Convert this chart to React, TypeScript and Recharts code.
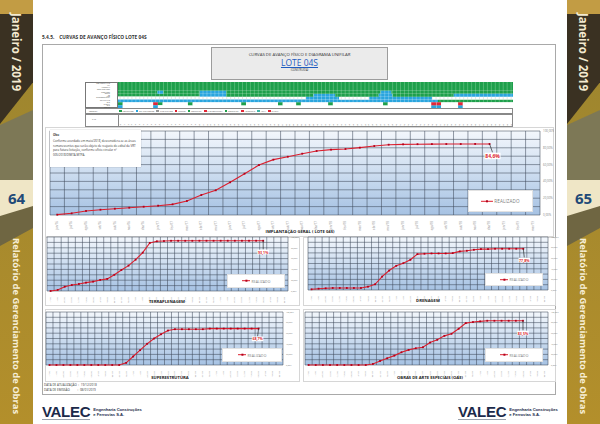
import React from 'react'
import { LineChart, Line, XAxis, YAxis, CartesianGrid, ReferenceLine, BarChart, Bar, Cell } from 'recharts'

// eixo mensal das curvas
const months = ['jun/16', 'jul/16', 'ago/16', 'set/16', 'out/16', 'nov/16', 'dez/16', 'jan/17', 'fev/17', 'mar/17', 'abr/17', 'mai/17', 'jun/17', 'jul/17', 'ago/17', 'set/17', 'out/17', 'nov/17', 'dez/17', 'jan/18', 'fev/18', 'mar/18', 'abr/18', 'mai/18', 'jun/18', 'jul/18', 'ago/18', 'set/18', 'out/18', 'nov/18', 'dez/18', 'jan/19', 'fev/19', 'mar/19']
const pctTicks = [0, 10, 20, 30, 40, 50, 60, 70, 80, 90, 100]

// % realizado acumulado
const implantacao = [0.4, 2, 4.8, 6.3, 7.5, 8.7, 9.9, 11.1, 12.7, 16.7, 23.8, 29.4, 38.9, 49.2, 59.5, 65.9, 69.4, 73, 76.2, 77.8, 78.6, 80.2, 82.1, 83.7, 84.1, 84.3, 84.4, 84.5, 84.5, 84.6, 84.6]
const terraplenagem = [0, 2, 8, 11, 13, 15.5, 17.4, 20.5, 22.4, 30, 39, 47, 58, 71, 89, 92, 92.5, 93, 93, 93, 93, 93.1, 93.1, 93.1, 93.1, 93.1, 93.1, 93.1, 93.1, 93.1, 93.1]
const drenagem = [1.3, 2.5, 3.2, 3.8, 3.8, 3.8, 3.8, 3.8, 6.3, 10.8, 25.3, 36.7, 45.6, 50.6, 57, 67.7, 68.4, 69, 69, 69, 69.6, 72.8, 74, 75.9, 77.2, 77.2, 77.8, 77.8, 77.8, 77.8, 77.8]
const superestrutura = [0, 0, 0, 0, 0, 0, 0, 0, 0, 0, 0, 4, 16, 28, 40, 50, 58, 65, 67.5, 67.5, 67.5, 67.5, 67.5, 68.7, 68.7, 68.7, 68.7, 68.7, 68.7, 68.7, 68.7]
const oae = [0, 0, 0, 0, 0, 0, 0, 0, 0, 1.9, 7.6, 12.7, 17.7, 24, 28.5, 31.6, 33.5, 42.4, 47.5, 55, 58.9, 68.4, 79, 81, 82.3, 83.5, 83.5, 83.5, 83.5, 83.5, 83.5]

// diagrama unifilar: fim de cada trecho (0-100) e estado
const rowNames = ['DESAPROPRIAÇÃO', 'LIC. AMBIENTAL', 'TERRAPLENAGEM', 'DRENAGEM', 'OBRAS DE ARTE', 'SUPERESTRUTURA', 'SINALIZAÇÃO', 'OAE EXECUT.', 'OAE ANDAM.']
const rowBreaks: [number, string][][] = [
  [[100, 'g']],
  [[100, 'g']],
  [[100, 'g']],
  [[10, 'g'], [11.5, 'b'], [20.7, 'g'], [27.4, 'b'], [66.5, 'g'], [69.2, 'b'], [100, 'g']],
  [[20.7, 'g'], [27.4, 'b'], [49.5, 'g'], [55, 'b'], [66, 'g'], [69.5, 'b'], [85, 'g'], [100, 'b']],
  [[47.6, 'w'], [56, 'b'], [63.6, 'w'], [79.5, 'b'], [100, 'w']],
  [[81, 'b'], [100, 'g']],
]
const oaeConcluida = [0, 10.1, 17.7, 31.2, 40.5, 45.1, 53.2, 67.1]
const oaeCritica = [8.9, 79.3, 80.6, 86.1]
const oaeAndamento = [0, 8.9, 79.3, 80.6, 86.1]
const kmTicks = [0, 1, 2, 3, 4, 5, 6, 7, 8, 9, 10, 11, 12, 13, 14, 15, 16, 17, 18, 19, 20, 21, 22, 23, 24, 25, 26, 27, 28, 29, 30, 31, 32, 33, 34, 35, 36, 37, 38, 39, 40, 41, 42, 43, 44, 45, 46, 47, 48, 49, 50, 51, 52, 53, 54, 55, 56, 57, 58, 59, 60, 61, 62, 63, 64, 65, 66, 67, 68, 69, 70, 71, 72, 73, 74, 75, 76, 77, 78, 79, 80, 81, 82, 83, 84, 85, 86, 87, 88, 89, 90, 91, 92, 93, 94, 95, 96, 97, 98, 99]

const RED = '#dc1f2e'
const GRID = '#3f4a5a'
const abs = (left: number, top: number, width?: number, height?: number): React.CSSProperties => ({ position: 'absolute', left, top, width, height })
const fmtPct = (v: number) => v.toFixed(1).replace('.', ',') + '%'
const fmtTick = (v: number) => v.toFixed(2).replace('.', ',') + '%'
const bandEdges = months.map((_, i) => i).concat(months.length)
const bandCenters = months.map((_, i) => i + 0.5)

type CurveProps = {
  id: string
  values: number[]
  left: number
  top: number
  width: number
  height: number
  margin: { top: number; right: number; bottom: number; left: number }
  xh: number
  yw: number
  fs: number
  lab: [number, number]
  lfs: number
}

function Curve({ id, values, left, top, width, height, margin, xh, yw, fs, lab, lfs }: CurveProps) {
  const data = values.map((v, i) => ({ x: i + 0.5, v }))
  const last = values.length - 1
  const dot = (p: any) => {
    const m = <rect x={p.cx - 0.9} y={p.cy - 0.9} width={1.8} height={1.8} fill="#b3001b" />
    if (p.index !== last) return <g key={p.index}>{m}</g>
    const tx = p.cx + lab[0]
    const ty = p.cy + lab[1]
    const w = lfs * 3.2
    return (
      <g key={p.index}>
        {m}
        <line x1={p.cx} y1={p.cy} x2={tx} y2={ty - lfs * 0.9} stroke="#111" strokeWidth={0.6} />
        <rect x={tx - w / 2} y={ty - lfs * 0.85} width={w} height={lfs * 1.3} fill="#fff" />
        <text x={tx} y={ty + lfs * 0.25} textAnchor="middle" fontSize={lfs} fontWeight={700} fill={RED}>{fmtPct(values[last])}</text>
      </g>
    )
  }
  return (
    <div style={abs(left, top)}>
      <LineChart width={width} height={height} data={data} margin={margin}>
        <defs>
          <linearGradient id={id} x1="0" y1="0" x2="0" y2="1">
            <stop offset="0%" stopColor="#f3f7fc" />
            <stop offset="100%" stopColor="#a6c2e3" />
          </linearGradient>
        </defs>
        <CartesianGrid horizontal={false} vertical={false} fill={`url(#${id})`} fillOpacity={1} />
        <XAxis
          type="number"
          dataKey="x"
          domain={[0, months.length]}
          ticks={bandCenters}
          interval={0}
          height={xh}
          axisLine={false}
          tickLine={false}
          tick={(p: any) => (
            <text key={p.index} transform={`translate(${p.x},${p.y - 2}) rotate(-90)`} textAnchor="end" dominantBaseline="middle" fontSize={fs} fill="#8c8c8c">
              {months[Math.floor(p.payload.value)]}
            </text>
          )}
        />
        <YAxis
          orientation="right"
          domain={[0, 100]}
          ticks={pctTicks}
          width={yw}
          axisLine={false}
          tickLine={false}
          tickSize={1}
          tickFormatter={fmtTick}
          tick={{ fontSize: fs, fill: '#7f7f7f' }}
        />
        {pctTicks.map((t) => (
          <ReferenceLine key={'h' + t} y={t} stroke={GRID} strokeWidth={0.55} />
        ))}
        {bandEdges.map((t) => (
          <ReferenceLine key={'v' + t} x={t} stroke={GRID} strokeWidth={0.55} />
        ))}
        <Line type="linear" dataKey="v" stroke={RED} strokeWidth={1.1} dot={dot} isAnimationActive={false} />
      </LineChart>
    </div>
  )
}

function LegendBox({ left, top, width, height, fs }: { left: number; top: number; width: number; height: number; fs: number }) {
  return (
    <div style={{ ...abs(left, top, width, height), background: '#fff', border: '0.5px solid #e2e2e2', boxSizing: 'border-box', display: 'flex', alignItems: 'center', justifyContent: 'center', gap: 1 }}>
      <svg width={fs * 2.6} height={fs}>
        <line x1={0} y1={fs / 2} x2={fs * 2.6} y2={fs / 2} stroke={RED} strokeWidth={1} />
        <rect x={fs * 1.3 - 1} y={fs / 2 - 1} width={2} height={2} fill="#b3001b" />
      </svg>
      <span style={{ fontSize: fs, color: '#7b7b7b', letterSpacing: 0.1 }}>REALIZADO</span>
    </div>
  )
}

function Title({ text, cx, y }: { text: string; cx: number; y: number }) {
  return (
    <div style={{ ...abs(cx - 80, y, 160), textAlign: 'center', fontSize: 4.2, fontWeight: 700, color: '#222', lineHeight: '5px' }}>{text}</div>
  )
}

function markerBreaks(marks: [number, string][]): [number, string][] {
  const out: [number, string][] = []
  let end = 0
  marks.slice().sort((a, b) => a[0] - b[0]).forEach(([at, c]) => {
    if (at > end) out.push([at, 'W'])
    out.push([at + 1.2, c])
    end = at + 1.2
  })
  out.push([100, 'W'])
  return out
}

const fills: Record<string, string> = { g: 'url(#pG)', b: 'url(#pB)', w: 'url(#pW)', G: '#1e9f4b', R: '#e32636', B: '#2aa5de', W: '#ffffff' }

function Diagram() {
  const allBreaks = rowBreaks.concat([
    markerBreaks(oaeConcluida.map((v) => [v, 'G'] as [number, string]).concat(oaeCritica.map((v) => [v, 'R'] as [number, string]))),
    markerBreaks(oaeAndamento.map((v) => [v, 'B'] as [number, string])),
  ])
  const rows = allBreaks.map((br) => {
    let prev = 0
    return br.map(([end, c]) => {
      const seg = { len: end - prev, c }
      prev = end
      return seg
    })
  })
  const data = rows.map((segs, i) => {
    const o: Record<string, any> = { name: rowNames[i] }
    segs.forEach((s, k) => (o['s' + k] = s.len))
    return o
  })
  const maxSeg = Math.max(...rows.map((r) => r.length))
  return (
    <div style={abs(85, 81)}>
      <BarChart width={428} height={46} data={data} layout="vertical" margin={{ top: 1, right: 0, bottom: 0, left: 0 }} barCategoryGap="3%">
        <defs>
          <pattern id="pG" patternUnits="userSpaceOnUse" width={3.95} height={4}>
            <rect width={3.95} height={4} fill="#1e9f4b" />
            <rect x={3.5} width={0.45} height={4} fill="#86d49e" />
          </pattern>
          <pattern id="pB" patternUnits="userSpaceOnUse" width={3.95} height={4}>
            <rect width={3.95} height={4} fill="#2aa5de" />
            <rect x={3.5} width={0.45} height={4} fill="#a3d9f3" />
          </pattern>
          <pattern id="pW" patternUnits="userSpaceOnUse" width={3.95} height={4}>
            <rect width={3.95} height={4} fill="#ffffff" />
            <rect x={3.5} width={0.45} height={4} fill="#c4c4c4" />
          </pattern>
        </defs>
        <XAxis
          type="number"
          domain={[0, 100]}
          ticks={kmTicks}
          interval={0}
          height={19}
          axisLine={false}
          tickLine={false}
          tick={(p: any) => (
            <text key={p.index} transform={`translate(${p.x + 2},${p.y + 8}) rotate(-90)`} textAnchor="end" dominantBaseline="middle" fontSize={2.3} fill="#666">
              {p.payload.value}
            </text>
          )}
        />
        <YAxis type="category" dataKey="name" width={33} axisLine={false} tickLine={false} interval={0} tick={{ fontSize: 1.6, fill: '#444' }} />
        {Array.from({ length: maxSeg }).map((_, k) => (
          <Bar key={k} dataKey={'s' + k} stackId="u" isAnimationActive={false}>
            {rows.map((r, i) => (
              <Cell key={i} fill={r[k] ? fills[r[k].c] : 'none'} />
            ))}
          </Bar>
        ))}
      </BarChart>
    </div>
  )
}

const legendItems: [string, string, string][] = [
  ['#1e9f4b', '', 'CONCLUÍDO'],
  ['#2aa5de', '', 'EM ANDAMENTO'],
  ['#ffffff', '#999', 'NÃO INICIADO'],
  ['#ffffff', RED, 'CRÍTICO'],
  ['#1e9f4b', '', 'CONCLUÍDA'],
  ['#e32636', '', 'NÃO CONCLUÍDA'],
  ['#1e9f4b', '', 'EXECUTADA'],
  ['#e32636', '', 'A EXECUTAR'],
  ['#3fb6a8', '', 'ATIVA'],
  ['#e32636', '', 'INATIVA'],
]

function SideBar({ left, page }: { left: number; page: string }) {
  return (
    <div style={{ ...abs(left, 0, 33, 424), background: 'linear-gradient(180deg,#9a842f 0%,#b38f2b 100%)', overflow: 'hidden' }}>
      <div style={{ ...abs(0, 0, 33, 16), background: '#c29c44' }} />
      <div style={{ ...abs(0, 14, 33, 110), background: '#3a3122', clipPath: 'polygon(0 0,100% 0,100% 62%,0 100%)' }} />
      <div style={{ ...abs(0, 80, 33, 100), background: '#c0a24e', clipPath: 'polygon(0 70%,100% 30%,100% 45%,0 85%)' }} />
      <div style={{ ...abs(0, 110, 33, 75), background: '#7d7856', clipPath: 'polygon(0 20%,100% 0,100% 100%,0 100%)' }} />
      <div style={{ ...abs(0, 180, 33, 38), background: '#efe6c6' }} />
      <div style={{ ...abs(0, 206, 33, 40), background: '#6f6642', clipPath: 'polygon(0 25%,100% 0,100% 55%,0 100%)' }} />
      <div style={{ ...abs(0, 12, 33, 80), writingMode: 'vertical-rl', display: 'flex', alignItems: 'center', justifyContent: 'center', color: '#f4ead0', fontWeight: 700, fontSize: 11.5, fontFamily: '"Open Sans", sans-serif' }}>Janeiro / 2019</div>
      <div style={{ ...abs(0, 184, 33, 28), textAlign: 'center', color: '#1f4a78', fontWeight: 700, fontSize: 15, lineHeight: '28px', fontFamily: '"Open Sans", sans-serif' }}>{page}</div>
      <div style={{ ...abs(0, 238, 33, 176), writingMode: 'vertical-rl', display: 'flex', alignItems: 'center', justifyContent: 'center', color: '#f7efd6', fontWeight: 700, fontSize: 9.4, fontFamily: '"Open Sans", sans-serif', whiteSpace: 'nowrap' }}>
        Relatório de Gerenciamento de Obras
      </div>
    </div>
  )
}

function Logo({ left }: { left: number }) {
  return (
    <div style={{ ...abs(left, 402, 110, 20), display: 'flex', alignItems: 'center', gap: 3 }}>
      <div style={{ fontFamily: '"Liberation Sans", Arial, sans-serif', fontWeight: 700, fontSize: 15, color: '#1b2a4a', letterSpacing: -0.3, borderBottom: '1px solid #9aa2ad', lineHeight: '14px' }}>VALEC</div>
      <div style={{ fontFamily: '"Liberation Sans", Arial, sans-serif', fontWeight: 700, fontSize: 4.1, color: '#1b2a4a', lineHeight: '5px' }}>
        Engenharia Construções
        <br />e Ferrovias S.A.
      </div>
    </div>
  )
}

export default function App() {
  const panelBorder = '0.5px solid #d6d6d6'
  return (
    <div style={{ position: 'fixed', left: 0, top: 0, width: 600, height: 424, background: '#fff', overflow: 'hidden', fontFamily: '"Open Sans", Arial, sans-serif' }}>
      <SideBar left={0} page="64" />
      <SideBar left={567} page="65" />

      <div style={{ ...abs(42, 34, 300), fontSize: 4.8, fontWeight: 700, color: '#333', whiteSpace: 'pre' }}>5.4.5.    CURVAS DE AVANÇO FÍSICO LOTE 04S</div>
      <div style={{ ...abs(42, 44, 514, 351), border: '0.7px solid #a9a9a9', boxSizing: 'border-box' }} />

      <div style={{ ...abs(211, 47, 177, 33), background: '#ebebeb', border: '0.6px solid #9c9c9c', boxSizing: 'border-box', textAlign: 'center' }}>
        <div style={{ fontSize: 4.3, color: '#333', marginTop: 4, lineHeight: '5px' }}>CURVAS DE AVANÇO FÍSICO E DIAGRAMA UNIFILAR</div>
        <div style={{ fontSize: 8.5, color: '#1f5cc0', textDecoration: 'underline', lineHeight: '10px', marginTop: 1 }}>LOTE 04S</div>
        <div style={{ fontSize: 2.6, color: '#333', lineHeight: '4px' }}>(CONSTRUÍDA)</div>
      </div>

      <div style={{ ...abs(85, 82, 33, 26), background: '#fff', border: '0.4px solid #777', boxSizing: 'border-box' }} />
      <Diagram />
      <div style={{ ...abs(85, 108, 428, 6), border: '0.4px solid #888', boxSizing: 'border-box', display: 'flex', alignItems: 'center', gap: 2.2, fontSize: 1.9, color: '#444', paddingLeft: 3, whiteSpace: 'nowrap' }}>
        <span style={{ width: 28 }}>LEGENDA</span>
        {legendItems.map(([c, b, t], i) => (
          <span key={i} style={{ display: 'flex', alignItems: 'center', gap: 0.8 }}>
            <span style={{ width: 2.6, height: 2.2, background: c, border: b ? `0.3px solid ${b}` : 'none', boxSizing: 'border-box' }} />
            {t}
          </span>
        ))}
      </div>
      <div style={{ ...abs(85, 114, 428, 13), border: '0.4px solid #888', boxSizing: 'border-box' }} />
      <div style={{ ...abs(118, 114, 0.4, 13), background: '#888' }} />
      <div style={{ ...abs(92, 118, 20), fontSize: 2.2, color: '#444' }}>K.M.</div>

      {/* implantação geral */}
      <div style={{ ...abs(45, 127, 509, 110), border: panelBorder, boxSizing: 'border-box' }} />
      <Curve id="bgMain" values={implantacao} left={45} top={128} width={509} height={108} margin={{ top: 3, right: 0, bottom: 9, left: 5 }} xh={12} yw={14} fs={2.9} lab={[3, 13]} lfs={5} />
      <div style={{ ...abs(50, 130, 91, 37), background: '#fff', boxShadow: '0 0 1px rgba(0,0,0,0.35)', padding: '3px 3px', boxSizing: 'border-box', fontSize: 2.9, color: '#333', lineHeight: '4.4px' }}>
        <div style={{ fontWeight: 700, marginBottom: 2 }}>Obs:</div>
        Conforme acordado em maio/2018, desconsidera-se as áreas remanescentes que serão objeto de reajuste do edital da VRT para futura licitação, conforme ofício circular nº 005/2018/DIMTA-MTPA.
      </div>
      <LegendBox left={468} top={190} width={65} height={22} fs={4.6} />
      <Title text="IMPLANTAÇÃO GERAL ( LOTE 04S)" cx={300} y={229} />

      {/* terraplenagem / drenagem */}
      <div style={{ ...abs(45, 237, 255, 69), border: panelBorder, boxSizing: 'border-box' }} />
      <div style={{ ...abs(303, 237, 253, 69), border: panelBorder, boxSizing: 'border-box' }} />
      <Curve id="bgT" values={terraplenagem} left={45} top={235} width={255} height={68} margin={{ top: 2, right: 2, bottom: 5, left: 2 }} xh={7} yw={10} fs={2} lab={[0, 12]} lfs={3.6} />
      <Curve id="bgD" values={drenagem} left={303} top={235} width={256} height={68} margin={{ top: 2, right: 0, bottom: 6, left: 5 }} xh={7} yw={11} fs={2} lab={[1, 12]} lfs={3.6} />
      <LegendBox left={227} top={274} width={58} height={14} fs={3.4} />
      <LegendBox left={485} top={273} width={58} height={13} fs={3.4} />
      <Title text="TERRAPLENAGEM" cx={167} y={299} />
      <Title text="DRENAGEM" cx={428} y={298} />

      {/* superestrutura / OAE */}
      <div style={{ ...abs(45, 309, 255, 73), border: panelBorder, boxSizing: 'border-box' }} />
      <div style={{ ...abs(303, 309, 253, 73), border: panelBorder, boxSizing: 'border-box' }} />
      <Curve id="bgS" values={superestrutura} left={45} top={310} width={255} height={70} margin={{ top: 2, right: 7, bottom: 8, left: 1 }} xh={7} yw={10} fs={2} lab={[-1, 11]} lfs={3.6} />
      <Curve id="bgO" values={oae} left={303} top={310} width={256} height={70} margin={{ top: 2, right: 0, bottom: 8, left: 2 }} xh={7} yw={11} fs={2} lab={[0, 13]} lfs={3.6} />
      <LegendBox left={222} top={348} width={60} height={14} fs={3.4} />
      <LegendBox left={485} top={348} width={58} height={14} fs={3.4} />
      <Title text="SUPERESTRUTURA" cx={170} y={375} />
      <Title text="OBRAS DE ARTE ESPECIAIS (OAE)" cx={430} y={375} />

      <div style={{ ...abs(44, 383, 200), fontSize: 3, color: '#333', lineHeight: '5px', whiteSpace: 'pre' }}>
        {'DATA DE ATUALIZAÇÃO  :  19/12/2018\nDATA DE EMISSÃO          :  08/01/2019'}
      </div>

      <Logo left={42} />
      <Logo left={458} />
    </div>
  )
}
